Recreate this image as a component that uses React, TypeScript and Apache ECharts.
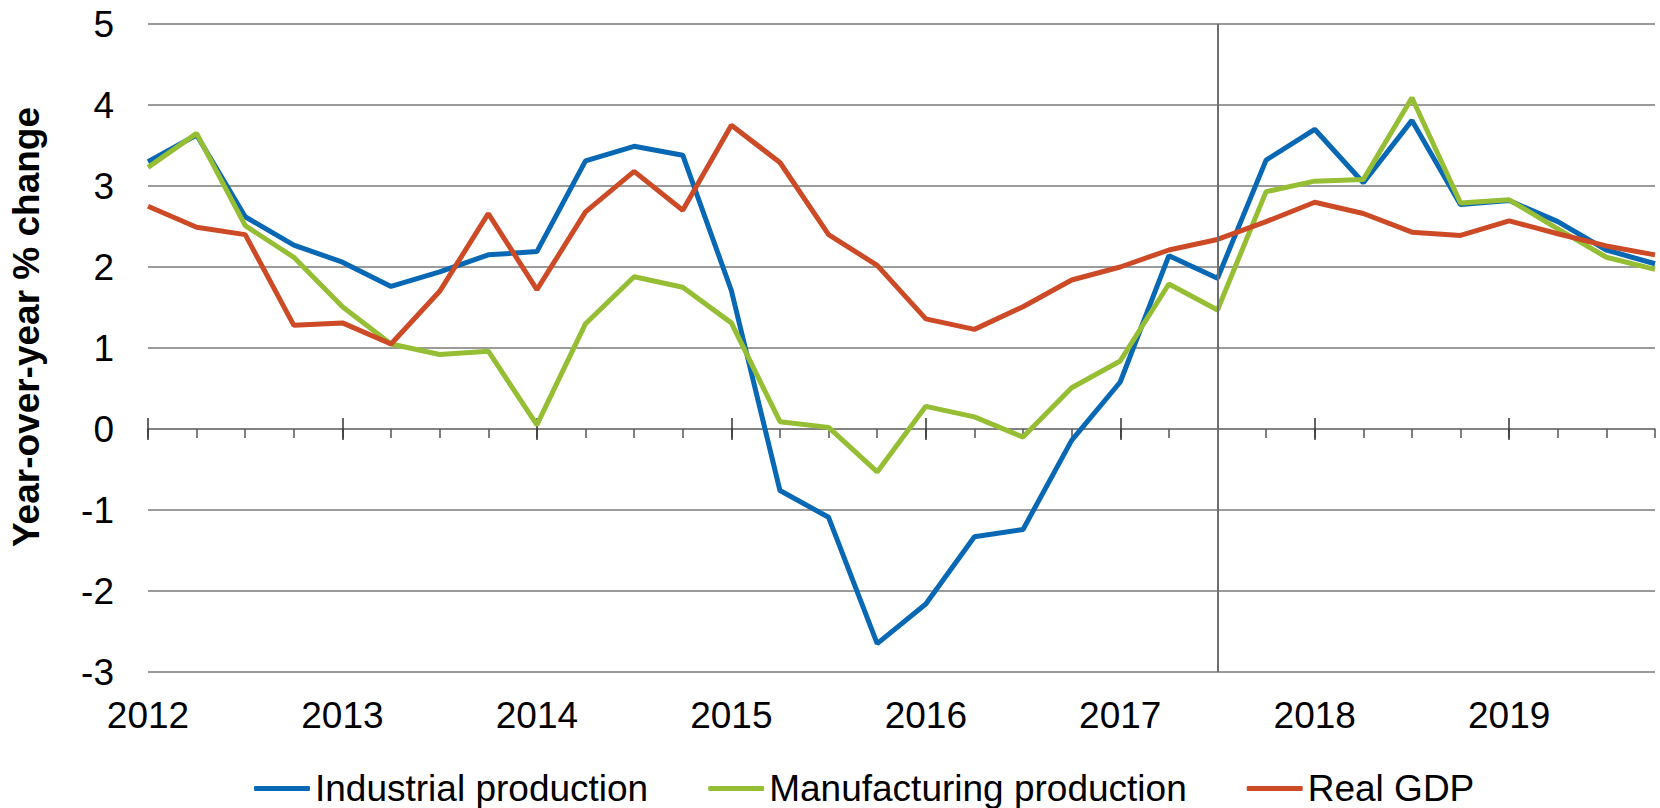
import React, { useEffect, useRef } from "react";
import * as echarts from "echarts";

const quarters: string[] = [
  "2012Q1", "2012Q2", "2012Q3", "2012Q4",
  "2013Q1", "2013Q2", "2013Q3", "2013Q4",
  "2014Q1", "2014Q2", "2014Q3", "2014Q4",
  "2015Q1", "2015Q2", "2015Q3", "2015Q4",
  "2016Q1", "2016Q2", "2016Q3", "2016Q4",
  "2017Q1", "2017Q2", "2017Q3", "2017Q4",
  "2018Q1", "2018Q2", "2018Q3", "2018Q4",
  "2019Q1", "2019Q2", "2019Q3", "2019Q4",
];

const industrialProduction: number[] = [
  3.30, 3.63, 2.62, 2.27, 2.06, 1.76, 1.94, 2.15,
  2.19, 3.31, 3.49, 3.38, 1.71, -0.76, -1.09, -2.65,
  -2.16, -1.33, -1.24, -0.14, 0.58, 2.14, 1.86, 3.32,
  3.70, 3.04, 3.81, 2.77, 2.82, 2.56, 2.21, 2.04,
];

const manufacturingProduction: number[] = [
  3.23, 3.65, 2.51, 2.12, 1.51, 1.05, 0.92, 0.96,
  0.05, 1.30, 1.88, 1.75, 1.31, 0.09, 0.02, -0.53,
  0.28, 0.15, -0.10, 0.51, 0.84, 1.79, 1.47, 2.93,
  3.06, 3.08, 4.09, 2.79, 2.83, 2.47, 2.12, 1.97,
];

const realGDP: number[] = [
  2.75, 2.49, 2.40, 1.28, 1.31, 1.05, 1.70, 2.66,
  1.72, 2.68, 3.18, 2.70, 3.75, 3.29, 2.40, 2.02,
  1.36, 1.23, 1.51, 1.84, 2.00, 2.21, 2.34, 2.56,
  2.80, 2.66, 2.43, 2.39, 2.57, 2.41, 2.26, 2.15,
];

const seriesNames: string[] = ["Industrial production", "Manufacturing production", "Real GDP"];
const seriesColors: string[] = ["#0868b4", "#96be34", "#cc4a26"];
const markerQuarter = "2017Q3";
const yAxisTitle = "Year-over-year % change";

const FONT = "'Liberation Sans', Arial, Helvetica, sans-serif";

const isYearStart = (index: number) => index % 4 === 0;

export default function App() {
  const ref = useRef<HTMLDivElement>(null);

  useEffect(() => {
    if (!ref.current) return;
    const chart = echarts.init(ref.current, undefined, { renderer: "svg" });

    const baseCat = {
      type: "category" as const,
      data: quarters,
      boundaryGap: false,
    };

    const option: any = {
      animation: false,
      backgroundColor: "#ffffff",
      grid: { left: 148, right: 5, top: 24, bottom: 136, containLabel: false },
      legend: {
        data: seriesNames,
        left: 249,
        top: 765,
        itemWidth: 56,
        itemHeight: 5,
        itemGap: 60,
        icon: "roundRect",
        textStyle: { fontFamily: FONT, fontSize: 37, color: "#000", lineHeight: 36 },
      },
      graphic: [
        {
          type: "text",
          x: 26,
          y: 327,
          rotation: Math.PI / 2,
          style: {
            text: yAxisTitle,
            font: `bold 37px ${FONT}`,
            fill: "#000",
            align: "center",
            verticalAlign: "middle",
          },
        },
      ],
      xAxis: [
        {
          ...baseCat,
          position: "bottom",
          axisLine: { show: true, onZero: true, onZeroAxisIndex: 0, lineStyle: { color: "#7a7a7a", width: 1.5 } },
          axisTick: { show: true, interval: 0, length: 9, lineStyle: { color: "#555", width: 1.5 } },
          axisLabel: { show: false },
          splitLine: { show: false },
        },
        {
          ...baseCat,
          position: "top",
          axisLine: { show: false, onZero: true, onZeroAxisIndex: 0 },
          axisTick: { show: true, interval: (i: number) => isYearStart(i), length: 11, lineStyle: { color: "#333", width: 1.5 } },
          axisLabel: { show: false },
          splitLine: { show: false },
        },
        {
          ...baseCat,
          position: "bottom",
          axisLine: { show: false, onZero: true, onZeroAxisIndex: 0 },
          axisTick: { show: true, interval: (i: number) => isYearStart(i), length: 11, lineStyle: { color: "#333", width: 1.5 } },
          axisLabel: { show: false },
          splitLine: { show: false },
        },
        {
          ...baseCat,
          position: "bottom",
          axisLine: { show: false, onZero: false },
          axisTick: { show: false },
          axisLabel: {
            show: true,
            interval: (i: number) => isYearStart(i),
            formatter: (v: string) => v.slice(0, 4),
            fontFamily: FONT,
            fontSize: 37,
            color: "#000",
            margin: 25,
          },
          splitLine: { show: false },
        },
      ],
      yAxis: {
        type: "value",
        min: -3,
        max: 5,
        interval: 1,
        axisLine: { show: false },
        axisTick: { show: false },
        axisLabel: { fontFamily: FONT, fontSize: 37, color: "#000", margin: 34 },
        splitLine: { show: true, lineStyle: { color: "#7a7a7a", width: 1.5 } },
      },
      series: [
        {
          name: seriesNames[0],
          type: "line",
          xAxisIndex: 0,
          data: industrialProduction,
          symbol: "none",
          lineStyle: { color: seriesColors[0], width: 5 },
          itemStyle: { color: seriesColors[0] },
          markLine: {
            silent: true,
            symbol: "none",
            label: { show: false },
            lineStyle: { color: "#6e6e6e", width: 2, type: "solid" },
            data: [{ xAxis: markerQuarter }],
          },
        },
        {
          name: seriesNames[1],
          type: "line",
          xAxisIndex: 0,
          data: manufacturingProduction,
          symbol: "none",
          lineStyle: { color: seriesColors[1], width: 5 },
          itemStyle: { color: seriesColors[1] },
        },
        {
          name: seriesNames[2],
          type: "line",
          xAxisIndex: 0,
          data: realGDP,
          symbol: "none",
          lineStyle: { color: seriesColors[2], width: 5 },
          itemStyle: { color: seriesColors[2] },
        },
      ],
    };

    chart.setOption(option);
    return () => chart.dispose();
  }, []);

  return (
    <div
      ref={ref}
      style={{ position: "absolute", left: 0, top: 0, width: 1660, height: 808, background: "#fff" }}
    />
  );
}
